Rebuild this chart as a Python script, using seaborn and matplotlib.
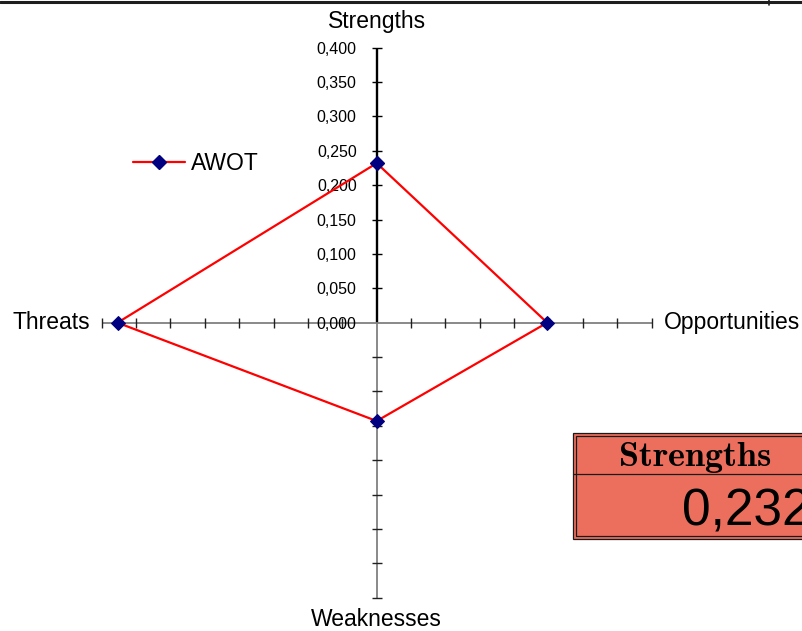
import numpy as np
import pandas as pd
import matplotlib
matplotlib.use("Agg")
import matplotlib.pyplot as plt
from matplotlib.lines import Line2D
from matplotlib.patches import Rectangle
import seaborn as sns

# AWOT priorities of the four SWOT groups
categories = ["Strengths", "Opportunities", "Weaknesses", "Threats"]
awot_values = [0.232, 0.248, 0.143, 0.377]
scale_ticks = [0.05, 0.10, 0.15, 0.20, 0.25, 0.30, 0.35, 0.40]
scale_labels = ["0,050", "0,100", "0,150", "0,200", "0,250", "0,300", "0,350", "0,400"]
zero_label = "0,000"
series_name = "AWOT"
r_max = 0.40

sns.set_theme(style="white")
plt.rcParams["font.family"] = ["Liberation Sans", "DejaVu Sans"]
plt.rcParams["text.color"] = "black"

W, H = 802, 631
fig = plt.figure(figsize=(W / 100, H / 100), dpi=100)
fig.patch.set_facecolor("white")


def fx(x):
    return x / W


def fy(y):
    return 1 - y / H


# square polar frame centred on the crossing of the four axes
cx, cy, rad = 376.7, 322.7, 275.0
ax = fig.add_axes([fx(cx - rad), fy(cy + rad), 2 * rad / W, 2 * rad / H],
                  projection="polar")
ax.set_theta_zero_location("N")
ax.set_theta_direction(-1)
ax.set_ylim(0, r_max)
ax.grid(False)
ax.set_xticks([])
ax.set_yticks([])
ax.spines["polar"].set_visible(False)
ax.set_facecolor("none")

n = len(categories)
angles = [i * 2 * np.pi / n for i in range(n)]

# category spokes with cross ticks
for i, th in enumerate(angles):
    up = i == 0
    ax.plot([th, th], [0, r_max], color="black" if up else "#808080",
            lw=1.7 if up else 1.3, solid_capstyle="butt", zorder=1, clip_on=False)
    ax.plot([th] * len(scale_ticks), scale_ticks, linestyle="none",
            marker="_" if i % 2 == 0 else "|", markersize=7.5,
            markeredgewidth=1.0, color="black" if up else "#202020",
            zorder=1.5, clip_on=False)

# value scale along the Strengths spoke
for t, lab in zip([0.0] + scale_ticks, [zero_label] + scale_labels):
    ax.annotate(lab, xy=(0, t), xytext=(-20, 0), textcoords="offset pixels",
                ha="right", va="center_baseline", fontsize=11.5, color="black",
                zorder=2)

# category names beyond the spoke ends
label_offsets = {
    "Strengths": ((0, 26), "center", "center"),
    "Opportunities": ((12, 0), "left", "center"),
    "Weaknesses": ((0, -22), "center", "center"),
    "Threats": ((-12, 0), "right", "center"),
}
for th, name in zip(angles, categories):
    off, ha, va = label_offsets[name]
    ax.annotate(name, xy=(th, r_max), xytext=off, textcoords="offset pixels",
                ha=ha, va=va, fontsize=16.5, color="black", annotation_clip=False)

# closed AWOT polygon
df = pd.DataFrame({
    "theta": angles + [2 * np.pi],
    "value": awot_values + [awot_values[0]],
})
sns.lineplot(data=df, x="theta", y="value", sort=False, ax=ax, color="red",
             lw=1.6, marker="D", markersize=7, markerfacecolor="#000080",
             markeredgecolor="#000080", zorder=3, clip_on=False)
ax.set_xlabel("")
ax.set_ylabel("")
ax.set_xticks([])
ax.set_yticks([])
ax.set_ylim(0, r_max)

handle = Line2D([], [], color="red", lw=1.6, marker="D", markersize=7,
                markerfacecolor="#000080", markeredgecolor="#000080")
fig.legend(handles=[handle], labels=[series_name], loc="center left",
           bbox_to_anchor=(fx(133), fy(164)), frameon=False, fontsize=16.5,
           borderpad=0, borderaxespad=0, handlelength=2.25, handletextpad=0.3,
           numpoints=1, labelcolor="black")

# frame edge at the top
fig.add_artist(Line2D([0, 1], [fy(1.5), fy(1.5)], color="#1e1e1e", lw=2.2,
                      transform=fig.transFigure))
fig.add_artist(Line2D([fx(769), fx(769)], [fy(0), fy(5)], color="#1e1e1e",
                      lw=1.2, transform=fig.transFigure))

# highlighted table cell with the Strengths value
box_fill = "#ec6f5e"
fig.add_artist(Rectangle((fx(572.5), fy(538.5)), fx(830) - fx(572.5),
                         fy(432.5) - fy(538.5), transform=fig.transFigure,
                         facecolor=box_fill, edgecolor="#1a1a1a", lw=0.9))
fig.add_artist(Rectangle((fx(575.5), fy(535.5)), fx(830) - fx(575.5),
                         fy(435.5) - fy(535.5), transform=fig.transFigure,
                         facecolor="none", edgecolor="#1a1a1a", lw=0.9))
fig.add_artist(Line2D([fx(572.5), 1], [fy(473.5), fy(473.5)], color="#1a1a1a",
                      lw=0.9, transform=fig.transFigure))
fig.text(fx(695), fy(466), r"$\mathbf{" + categories[0] + "}$", ha="center",
         va="baseline", fontsize=26, math_fontfamily="cm", color="black")
fig.text(fx(682), fy(526), f"{awot_values[0]:.3f}".replace(".", ","),
         ha="left", va="baseline", fontsize=37, color="black")

fig.savefig("out.png", dpi=100)
